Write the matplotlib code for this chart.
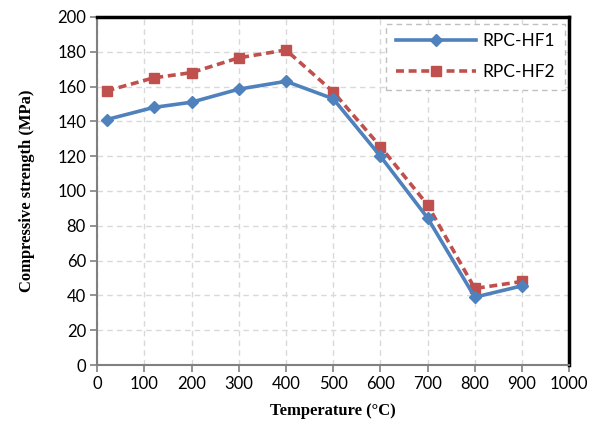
import matplotlib
matplotlib.use("Agg")
import matplotlib.pyplot as plt

temps = [20, 120, 200, 300, 400, 500, 600, 700, 800, 900]
hf1 = [141, 148, 151, 158.5, 163, 153, 120, 84.5, 39, 45.5]
hf2 = [157.5, 165, 168, 176.5, 181, 157, 125.5, 92, 44, 48]
xticks = list(range(0, 1001, 100))
yticks = list(range(0, 201, 20))

fig = plt.figure(figsize=(6.03, 4.23), dpi=100)
ax = fig.add_axes([0.161, 0.137, 0.783, 0.823])

ax.plot(temps, hf1, color="#4F81BD", lw=2.6, marker="D", ms=6.5,
        label="RPC-HF1", zorder=4)
ax.plot(temps, hf2, color="#C0504D", lw=2.6, ls=(0, (2.2, 1.3)), marker="s",
        ms=6.5, label="RPC-HF2", zorder=3)

ax.set_xlim(0, 1000)
ax.set_ylim(0, 200)
ax.set_xticks(xticks)
ax.set_yticks(yticks)
ax.grid(True, color="#D9D9D9", ls=(0, (4, 3)), lw=1.0)
ax.set_axisbelow(True)

tickfont = dict(family=["Lato", "DejaVu Sans"], size=12)
ax.set_xticklabels([str(t) for t in xticks], fontdict=tickfont)
ax.set_yticklabels([str(t) for t in yticks], fontdict=tickfont)
ax.tick_params(axis="both", direction="out", length=5, width=1.2,
               color="#808080", colors="black", pad=3)
ax.tick_params(axis="both", colors="black", color="#808080")

for s in ("top", "right"):
    ax.spines[s].set_color("black")
    ax.spines[s].set_linewidth(2.5)
for s in ("left", "bottom"):
    ax.spines[s].set_color("#808080")
    ax.spines[s].set_linewidth(1.5)

labfont = dict(family=["Liberation Serif", "DejaVu Serif"], size=12,
               weight="bold")
ax.set_xlabel("Temperature (°C)", fontdict=labfont, labelpad=8)
ax.set_ylabel("Compressive strength (MPa)", fontdict=labfont, labelpad=16)

leg = ax.legend(loc="upper right", bbox_to_anchor=(0.998, 0.99),
                prop=dict(family=["Lato", "DejaVu Sans"], size=12.5),
                frameon=True, fancybox=False, handlelength=4.6,
                labelspacing=0.85, borderpad=0.55, handletextpad=0.4,
                borderaxespad=0.2)
frame = leg.get_frame()
frame.set_edgecolor("#BFBFBF")
frame.set_linestyle((0, (4, 3)))
frame.set_linewidth(1.0)
frame.set_facecolor("white")
frame.set_alpha(1)

fig.savefig("out.png", dpi=100)
